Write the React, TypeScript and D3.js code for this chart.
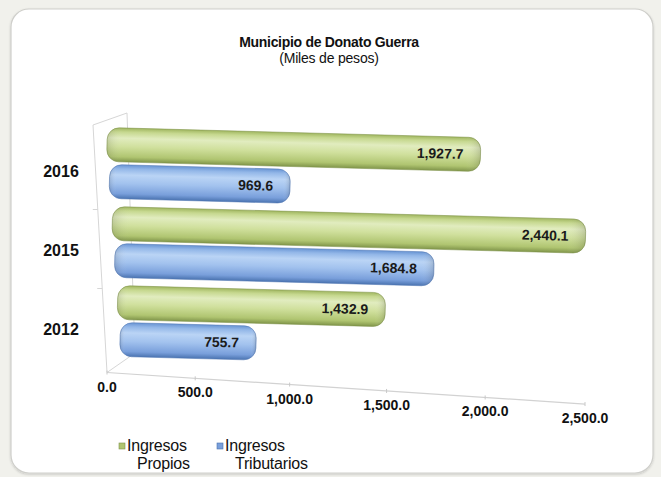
import React from 'react';
import * as d3 from 'd3';

const categories = ['2016', '2015', '2012'];
const seriesKeys = ['propios', 'tributarios'];
const propios = [1927.7, 2440.1, 1432.9];
const tributarios = [969.6, 1684.8, 755.7];
const xTicks = [0, 500, 1000, 1500, 2000, 2500];
const legendLines = [['Ingresos', 'Propios'], ['Ingresos', 'Tributarios']];
const title = 'Municipio de Donato Guerra';
const subtitle = '(Miles de pesos)';

const W = 661;
const H = 477;
const FONT = "'Liberation Sans', Arial, Helvetica, sans-serif";

const green = ['#a0b660', '#c6d88f', '#e1ecbf', '#d0e09d', '#b0c571', '#80954a'];
const blue = ['#6894d3', '#93b7e8', '#bad4f5', '#a2c2ee', '#799fdb', '#4a73b0'];
const stops = [0, 0.12, 0.3, 0.55, 0.85, 1];

export default function App() {
  const len = d3.scalePow().exponent(1.05).domain([0, 2500]).range([0, 478]);
  const depth = d3.scaleLinear().domain([145, 338]).range([1.027, 1.0]);
  const band = d3.scaleBand<string>().domain(categories).range([123.5, 360.5]);
  const sub = d3.scaleBand<string>().domain(seriesKeys).range([-36, 36]).paddingInner(0.05);

  const axisX0 = 107;
  const axisY0 = 372.5;
  const axisSlope = 0.066;
  const barSlope = 0.027;
  const angle = (Math.atan(barSlope) * 180) / Math.PI;
  const thick = 34;

  const bars: any[] = [];
  categories.forEach((c, i) => {
    seriesKeys.forEach((s, j) => {
      const v = j === 0 ? propios[i] : tributarios[i];
      const yc = (band(c) as number) + band.bandwidth() / 2 + (sub(s) as number) + sub.bandwidth() / 2;
      const x0 = 107 + 0.067 * (yc - 145);
      bars.push({ key: c + s, v, yc, x0, s });
    });
  });

  const fmt = d3.format(',.1f');
  const ax = (v: number) => axisX0 + len(v);
  const ay = (v: number) => axisY0 + len(v) * axisSlope;

  return (
    <svg width={W} height={H} style={{ position: 'absolute', left: 0, top: 0, display: 'block' }} fontFamily={FONT}>
      <defs>
        <linearGradient id="gGreen" x1="0" y1="0" x2="0" y2="1">
          {stops.map((o, k) => <stop key={k} offset={o} stopColor={green[k]} />)}
        </linearGradient>
        <linearGradient id="gBlue" x1="0" y1="0" x2="0" y2="1">
          {stops.map((o, k) => <stop key={k} offset={o} stopColor={blue[k]} />)}
        </linearGradient>
        <linearGradient id="gEnd" x1="0" y1="0" x2="1" y2="0">
          <stop offset="0" stopColor="#000" stopOpacity="0.12" />
          <stop offset="0.04" stopColor="#fff" stopOpacity="0" />
          <stop offset="0.96" stopColor="#fff" stopOpacity="0" />
          <stop offset="1" stopColor="#000" stopOpacity="0.15" />
        </linearGradient>
        <filter id="shadow" x="-5%" y="-5%" width="110%" height="110%">
          <feDropShadow dx="0" dy="1" stdDeviation="1.2" floodColor="#000" floodOpacity="0.18" />
        </filter>
      </defs>
      <rect x={0} y={0} width={W} height={H} fill="#f1f1ec" />
      <rect x={11} y={9} width={642} height={464} rx={18} fill="#ffffff" stroke="#cfcfcb" strokeWidth={1.2} filter="url(#shadow)" />

      <text x={329} y={47} textAnchor="middle" fontSize={14} fontWeight="bold" letterSpacing={-0.3} fill="#111">{title}</text>
      <text x={329} y={63} textAnchor="middle" fontSize={14} fill="#111" letterSpacing={-0.2}>{subtitle}</text>

      {/* side wall */}
      <g stroke="#d6d6d6" strokeWidth={1} fill="none">
        <line x1={93} y1={125} x2={axisX0} y2={axisY0} />
        <line x1={93} y1={125} x2={127} y2={113} />
        <line x1={127} y1={113} x2={135} y2={353} />
        <line x1={axisX0} y1={axisY0} x2={135} y2={353} />
        {[1, 2].map((k) => {
          const yb = (band(categories[k]) as number) + 7;
          const xe = 93 + ((yb - 125) * 14) / 247.5;
          return <line key={k} x1={xe - 5} y1={yb} x2={xe} y2={yb} />;
        })}
      </g>

      {/* bars */}
      {bars.map((b) => {
        const L = len(b.v) * depth(b.yc);
        return (
          <g key={b.key} transform={`translate(${b.x0},${b.yc}) rotate(${angle})`}>
            <rect x={0} y={-thick / 2} width={L} height={thick} rx={12} ry={12}
              fill={b.s === 'propios' ? 'url(#gGreen)' : 'url(#gBlue)'}
              stroke={b.s === 'propios' ? '#7f934a' : '#5178b4'} strokeOpacity={0.6} strokeWidth={0.9} />
            <rect x={0} y={-thick / 2} width={L} height={thick} rx={12} ry={12} fill="url(#gEnd)" />
            <text x={L - 17} y={0} dy="0.35em" textAnchor="end" fontSize={14} fontWeight="bold" fill="#1a1a1a">{fmt(b.v)}</text>
          </g>
        );
      })}

      {/* category labels */}
      {categories.map((c) => (
        <text key={c} x={61} y={(band(c) as number) + band.bandwidth() / 2 + 14} textAnchor="middle" fontSize={16} fontWeight="bold" fill="#111">{c}</text>
      ))}

      {/* value axis */}
      <line x1={ax(0)} y1={ay(0)} x2={ax(2500)} y2={ay(2500)} stroke="#d2d2d2" strokeWidth={1.2} />
      {xTicks.map((t) => (
        <g key={t}>
          <line x1={ax(t)} y1={ay(t) - 2} x2={ax(t)} y2={ay(t) + 2} stroke="#c8c8c8" />
          <text x={ax(t)} y={ay(t) + 19} textAnchor="middle" fontSize={14} fontWeight="bold" fill="#111">{fmt(t)}</text>
        </g>
      ))}

      {/* legend */}
      {legendLines.map((lines, i) => {
        const mx = i === 0 ? 119 : 217;
        const tx = i === 0 ? 127 : 225;
        return (
          <g key={i}>
            <rect x={mx} y={443} width={6} height={6} fill={i === 0 ? '#b0c571' : '#799fdb'} stroke={i === 0 ? '#7f934a' : '#4a73b0'} strokeWidth={0.6} />
            <text x={tx} y={451} fontSize={16} fill="#111" letterSpacing={-0.2}>{lines[0]}</text>
            <text x={tx + 10} y={469} fontSize={16} fill="#111" letterSpacing={-0.2}>{lines[1]}</text>
          </g>
        );
      })}
    </svg>
  );
}
